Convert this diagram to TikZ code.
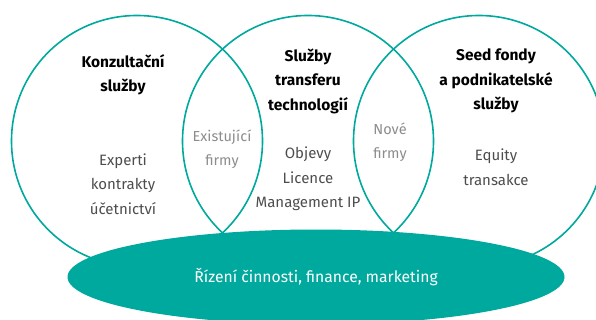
\documentclass[tikz,border=0pt]{standalone}
\usepackage{fontspec}
\setmainfont{Fira Sans}
\usetikzlibrary{shapes.geometric}
\definecolor{teal}{HTML}{00A99D}
\definecolor{bodygray}{HTML}{4D4D4D}
\definecolor{lensgray}{HTML}{8C8C8C}
\tikzset{
  venn/.style={circle, draw=teal, line width=1.6pt, minimum size=251pt, inner sep=0pt},
  title/.style={align=center, font=\fontsize{15.5}{24.5}\selectfont\bfseries, text=black},
  body/.style={align=center, font=\fontsize{15}{24.5}\selectfont, text=bodygray},
  lens/.style={align=center, font=\fontsize{14.5}{24.5}\selectfont, text=lensgray},
}
\begin{document}
\begin{tikzpicture}[x=1pt,y=-1pt]
\useasboundingbox (0,0) rectangle (596,320);
\clip (0,0) rectangle (596,320);
\node[venn] (c1) at (137,141) {};
\node[venn] (c2) at (308,141) {};
\node[venn] (c3) at (479,141) {};
\node[ellipse, fill=teal, minimum width=497pt, minimum height=95pt, inner sep=0pt,
  text=white, font=\fontsize{15.7}{18}\selectfont] (e) at (316,277) {Řízení činnosti, finance, marketing};
\node[title] (t1) at (123,75) {Konzultační\\služby};
\node[title] (t2) at (308,81) {Služby\\transferu\\technologií};
\node[title] (t3) at (496,81) {Seed fondy\\a podnikatelské\\služby};
\node[body] (b1) at (123,184) {Experti\\kontrakty\\účetnictví};
\node[body] (b2) at (308,179) {Objevy\\Licence\\Management IP};
\node[body] (b3) at (496,167) {Equity\\transakce};
\node[lens] (l1) at (222,149) {Existující\\firmy};
\node[lens] (l2) at (390,142) {Nové\\firmy};
\end{tikzpicture}
\end{document}
